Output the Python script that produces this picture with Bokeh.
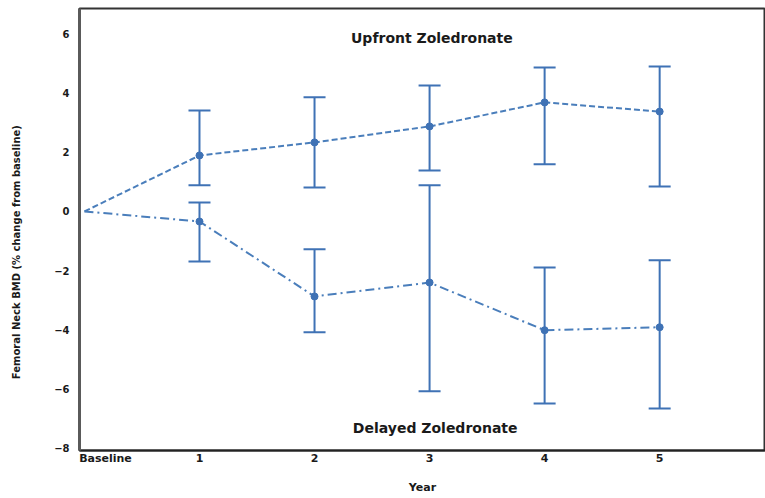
from bokeh.plotting import figure
from bokeh.models import ColumnDataSource, Whisker, TeeHead, Label, Range1d, FixedTicker
from bokeh.embed import file_html
from bokeh.resources import INLINE

# ---- data ----
years = [0, 1, 2, 3, 4, 5]
tick_labels = ["Baseline", "1", "2", "3", "4", "5"]

upfront_mean = [0, 1.89, 2.33, 2.87, 3.68, 3.37]
upfront_upper = [0, 3.41, 3.85, 4.25, 4.86, 4.89]
upfront_lower = [0, 0.88, 0.81, 1.38, 1.59, 0.84]

delayed_mean = [0, -0.34, -2.87, -2.40, -4.01, -3.91]
delayed_upper = [0, 0.30, -1.28, 0.88, -1.89, -1.65]
delayed_lower = [0, -1.69, -4.08, -6.07, -6.48, -6.65]

y_ticks = [-8, -6, -4, -2, 0, 2, 4, 6]

BLUE = "#4a7ebb"
EBLUE = "#3f72b5"
TXT = "#1a1a1a"
FONT = "DejaVu Sans"
NBSP = "\u00a0"

p = figure(width=765, height=498, output_backend="svg", toolbar_location=None,
           x_range=Range1d(-0.043, 5.92), y_range=Range1d(-8.07, 6.85),
           min_border_left=79, min_border_right=0, min_border_top=8, min_border_bottom=48)

p.xgrid.visible = False
p.ygrid.visible = False
p.outline_line_color = "#333333"
p.outline_line_width = 2
p.background_fill_color = "white"
p.border_fill_color = "white"

# axes ("Baseline" is left-aligned at the origin in the original, so pad it)
p.xaxis.ticker = FixedTicker(ticks=years)
p.xaxis.major_label_overrides = {y: ((NBSP * 11 + t) if y == 0 else t)
                                 for y, t in zip(years, tick_labels)}
p.yaxis.ticker = FixedTicker(ticks=y_ticks)
for ax in (p.xaxis, p.yaxis):
    ax.major_tick_line_color = None
    ax.minor_tick_line_color = None
    ax.major_label_text_font = FONT
    ax.major_label_text_font_style = "bold"
    ax.major_label_text_color = TXT
    ax.axis_label_text_font = FONT
    ax.axis_label_text_font_style = "bold"
    ax.axis_label_text_color = TXT
p.xaxis.major_label_text_font_size = "11px"
p.yaxis.major_label_text_font_size = "10px"
p.xaxis.major_label_standoff = -5
p.yaxis.major_label_standoff = 4
p.yaxis.axis_line_color = "#5a5a5a"
p.yaxis.axis_line_width = 3
p.xaxis.axis_line_color = "#222222"
p.xaxis.axis_line_width = 2

p.xaxis.axis_label = "Year"
p.xaxis.axis_label_text_font_size = "11px"
p.xaxis.axis_label_standoff = 13

# the original y title sits a little below the frame centre: pad its end
p.yaxis.axis_label = "Femoral Neck BMD (% change from baseline)" + NBSP * 13
p.yaxis.axis_label_text_font_size = "10px"
p.yaxis.axis_label_standoff = 29

# series
up_src = ColumnDataSource(dict(x=years, y=upfront_mean))
de_src = ColumnDataSource(dict(x=years, y=delayed_mean))
up_err = ColumnDataSource(dict(x=years[1:], lo=upfront_lower[1:], hi=upfront_upper[1:]))
de_err = ColumnDataSource(dict(x=years[1:], lo=delayed_lower[1:], hi=delayed_upper[1:]))

for src in (up_err, de_err):
    w = Whisker(source=src, base="x", lower="lo", upper="hi", dimension="height",
                line_color=EBLUE, line_width=2,
                upper_head=TeeHead(size=22, line_color=EBLUE, line_width=2),
                lower_head=TeeHead(size=22, line_color=EBLUE, line_width=2))
    p.add_layout(w)

p.line("x", "y", source=up_src, line_color=BLUE, line_width=2, line_dash="6 3")
p.line("x", "y", source=de_src, line_color=BLUE, line_width=2, line_dash="9 4 2 4")
p.scatter("x", "y", source=ColumnDataSource(dict(x=years[1:], y=upfront_mean[1:])),
          size=7, color=EBLUE)
p.scatter("x", "y", source=ColumnDataSource(dict(x=years[1:], y=delayed_mean[1:])),
          size=7, color=EBLUE)

# annotations
p.add_layout(Label(x=3.02, y=5.84, text="Upfront Zoledronate", text_align="center",
                   text_baseline="middle", text_font=FONT, text_font_size="14px",
                   text_font_style="bold", text_color=TXT))
p.add_layout(Label(x=3.07, y=-7.32, text="Delayed  Zoledronate", text_align="center",
                   text_baseline="middle", text_font=FONT, text_font_size="14px",
                   text_font_style="bold", text_color=TXT))

open("out.html", "w").write(file_html(p, INLINE))
